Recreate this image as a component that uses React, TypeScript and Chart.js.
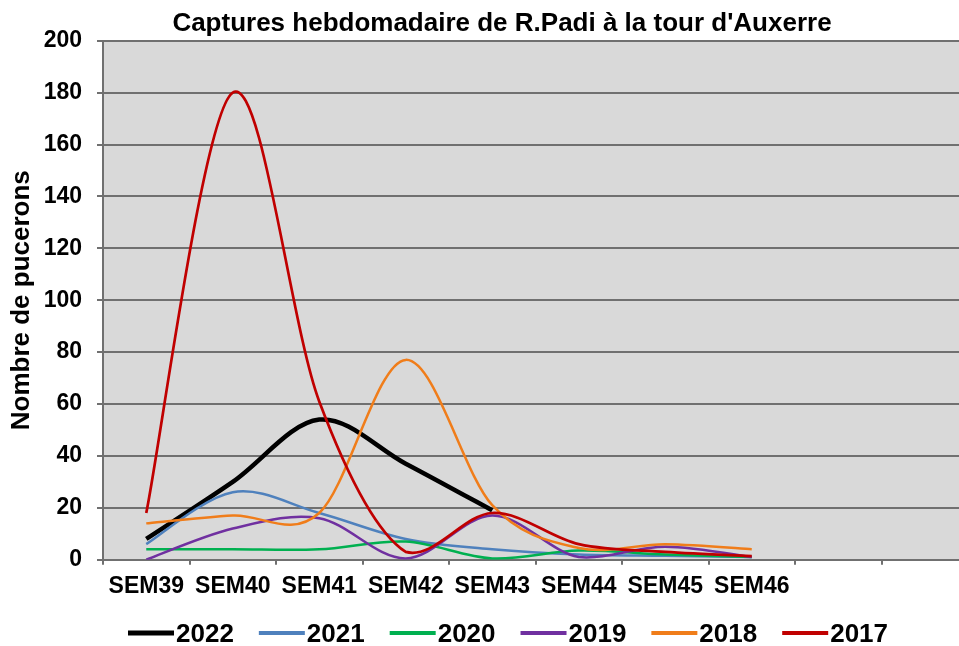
import React, { useEffect, useRef } from 'react';
import { Chart, registerables } from 'chart.js';

Chart.register(...registerables);

const FONT = "'Liberation Sans', Arial, Helvetica, sans-serif";

const titleText = "Captures hebdomadaire de R.Padi à la tour d'Auxerre";
const yTitle = 'Nombre de pucerons';

const weeks = ['SEM39', 'SEM40', 'SEM41', 'SEM42', 'SEM43', 'SEM44', 'SEM45', 'SEM46', '', ''];

const s2022 = [8, 30, 54, 37, 19];
const s2021 = [6, 26, 18, 8, 4, 2, 1.5, 1];
const s2020 = [4, 4, 4, 7, 0.5, 3.5, 2, 1];
const s2019 = [0, 12, 16, 0.5, 17, 1, 5, 1];
const s2018 = [14, 17, 18, 77, 21, 4.5, 6, 4];
const s2017 = [18, 180, 61, 3, 18, 6, 3, 1.4];

const seriesNames = ['2022', '2021', '2020', '2019', '2018', '2017'];
const seriesData = [s2022, s2021, s2020, s2019, s2018, s2017];
const seriesColors = ['#000000', '#4f81bd', '#00b050', '#7030a0', '#f07d1a', '#c00000'];
const seriesWidths = [4.5, 2.5, 2.5, 2.5, 2.5, 2.7];
const legendWidths = [5, 4, 4, 4, 4, 4];

const yMin = 0;
const yMax = 200;
const yStep = 20;

const bgPlugin = {
  id: 'plotBg',
  beforeDraw(chart: any) {
    const { ctx, chartArea } = chart;
    ctx.save();
    ctx.fillStyle = '#d9d9d9';
    ctx.fillRect(chartArea.left, chartArea.top, chartArea.right - chartArea.left, chartArea.bottom - chartArea.top);
    ctx.restore();
  },
};

// Uniform Catmull-Rom style smoothing (like a spreadsheet's "smoothed line")
const smoothPlugin = {
  id: 'uniformSmooth',
  beforeDatasetsDraw(chart: any) {
    const area = chart.chartArea;
    chart.data.datasets.forEach((_ds: any, di: number) => {
      const meta = chart.getDatasetMeta(di);
      const pts = meta.data;
      const n = pts.length;
      for (let i = 0; i < n; i++) {
        const p = pts[i];
        const prev = pts[i - 1] || p;
        const next = pts[i + 1] || p;
        const dx = (next.x - prev.x) / 6;
        const dy = (next.y - prev.y) / 6;
        p.cp1x = p.x - dx;
        p.cp1y = Math.min(area.bottom, Math.max(area.top, p.y - dy));
        p.cp2x = p.x + dx;
        p.cp2y = Math.min(area.bottom, Math.max(area.top, p.y + dy));
      }
      if (meta.dataset) meta.dataset._pointsUpdated = true;
    });
  },
};

const textPlugin = {
  id: 'titleLegend',
  afterDraw(chart: any) {
    const { ctx } = chart;
    ctx.save();
    ctx.fillStyle = '#000';
    ctx.font = `bold 26px ${FONT}`;
    ctx.textAlign = 'center';
    ctx.textBaseline = 'alphabetic';
    ctx.fillText(titleText, 502, 31);

    // legend
    ctx.textAlign = 'left';
    let x = 128;
    const ly = 633;
    seriesNames.forEach((name, i) => {
      ctx.strokeStyle = seriesColors[i];
      ctx.lineWidth = legendWidths[i];
      ctx.beginPath();
      ctx.moveTo(x, ly);
      ctx.lineTo(x + 46, ly);
      ctx.stroke();
      ctx.fillStyle = '#000';
      ctx.fillText(name, x + 48, 642);
      const w = ctx.measureText(name).width;
      x += 46 + 2 + w + 25;
    });
    ctx.restore();
  },
};

export default function App() {
  const ref = useRef<HTMLCanvasElement | null>(null);

  useEffect(() => {
    if (!ref.current) return;
    const chart = new Chart(ref.current, {
      type: 'line',
      data: {
        labels: weeks,
        datasets: seriesNames.map((name, i) => ({
          label: name,
          data: seriesData[i],
          borderColor: seriesColors[i],
          backgroundColor: seriesColors[i],
          borderWidth: seriesWidths[i],
          pointRadius: 0,
          pointHoverRadius: 0,
          tension: 0.4,
          fill: false,
          order: i === 0 ? 10 : 6 - i,
        })),
      },
      options: {
        animation: false,
        responsive: false,
        maintainAspectRatio: false,
        layout: { padding: { top: 40.7, right: 12, left: 0, bottom: 0 } },
        plugins: {
          legend: { display: false },
          title: { display: false },
          tooltip: { enabled: false },
        },
        scales: {
          x: {
            offset: true,
            grid: {
              offset: true,
              drawOnChartArea: false,
              drawTicks: true,
              tickLength: 5,
              color: '#707070',
              lineWidth: 2,
            },
            border: { color: '#707070', width: 2 },
            ticks: {
              color: '#000',
              font: { family: FONT, size: 23, weight: 'bold' },
              padding: 8,
              maxRotation: 0,
              autoSkip: false,
            },
            afterFit: (s: any) => {
              s.height = 86.3;
            },
          },
          y: {
            min: yMin,
            max: yMax,
            ticks: {
              stepSize: yStep,
              color: '#000',
              font: { family: FONT, size: 23, weight: 'bold' },
              padding: 15,
            },
            grid: {
              color: '#707070',
              lineWidth: 2,
              tickLength: 6,
              drawTicks: true,
            },
            border: { color: '#707070', width: 2 },
            title: {
              display: true,
              text: yTitle,
              color: '#000',
              font: { family: FONT, size: 26, weight: 'bold' },
              padding: { top: 6, bottom: 0 },
            },
            afterFit: (s: any) => {
              s.width = 103;
            },
          },
        },
      },
      plugins: [bgPlugin, smoothPlugin, textPlugin],
    } as any);
    return () => chart.destroy();
  }, []);

  return (
    <div
      style={{
        position: 'absolute',
        left: 0,
        top: 0,
        width: 959,
        height: 646,
        overflow: 'hidden',
        background: '#fff',
      }}
    >
      <canvas ref={ref} width={980} height={646} style={{ display: 'block', width: 980, height: 646 }} />
    </div>
  );
}
